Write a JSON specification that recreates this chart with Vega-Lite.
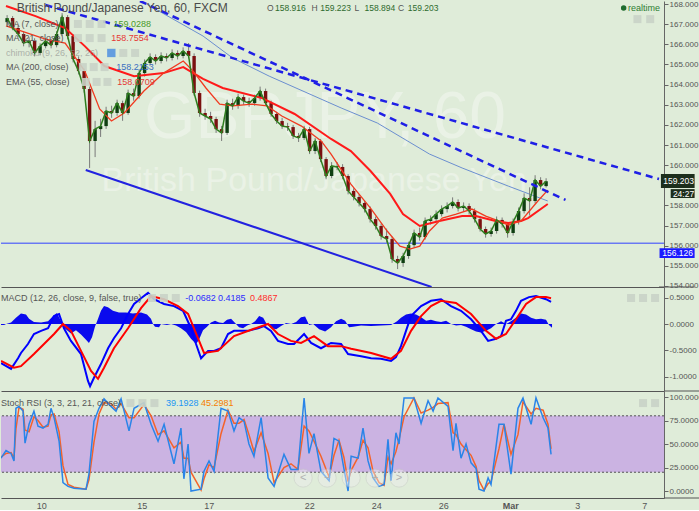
{
"$schema": "https://vega.github.io/schema/vega-lite/v6.json",
"padding": 0,
"spacing": 0,
"bounds": "flush",
"background": "#dfecd9",
"config": {"view": {"stroke": null}, "font": "Liberation Sans", "axis": {"grid": false, "title": null, "labelColor": "#555555", "labelFontSize": 8, "domainColor": "#666666", "tickColor": "#666666", "tickSize": 4, "labelPadding": 1}},
"datasets": {
"candles": [
{"h":-28,"o":167.10,"hi":167.45,"lo":166.95,"c":167.30},
{"h":-24,"o":167.30,"hi":167.40,"lo":166.70,"c":166.81},
{"h":-20,"o":166.81,"hi":166.95,"lo":166.35,"c":166.51},
{"h":-16,"o":166.51,"hi":166.65,"lo":165.90,"c":166.06},
{"h":-12,"o":166.06,"hi":166.35,"lo":165.85,"c":166.16},
{"h":-8,"o":166.16,"hi":166.30,"lo":165.40,"c":165.57},
{"h":-4,"o":165.57,"hi":166.05,"lo":165.45,"c":165.91},
{"h":0,"o":165.91,"hi":166.30,"lo":165.80,"c":166.16},
{"h":4,"o":166.16,"hi":166.25,"lo":165.80,"c":165.96},
{"h":8,"o":165.96,"hi":166.65,"lo":165.85,"c":166.51},
{"h":12,"o":166.51,"hi":167.55,"lo":166.40,"c":167.35},
{"h":16,"o":167.35,"hi":167.45,"lo":166.25,"c":166.41},
{"h":20,"o":166.41,"hi":166.50,"lo":165.10,"c":165.27},
{"h":24,"o":165.27,"hi":165.40,"lo":164.50,"c":164.67},
{"h":28,"o":164.67,"hi":164.80,"lo":163.60,"c":163.78},
{"h":32,"o":163.78,"hi":163.90,"lo":159.86,"c":161.20},
{"h":36,"o":161.20,"hi":162.20,"lo":160.40,"c":161.79},
{"h":40,"o":161.79,"hi":162.30,"lo":161.40,"c":161.94},
{"h":44,"o":161.94,"hi":162.90,"lo":161.80,"c":162.69},
{"h":48,"o":162.69,"hi":162.95,"lo":162.35,"c":162.59},
{"h":52,"o":162.59,"hi":163.25,"lo":162.45,"c":163.08},
{"h":56,"o":163.08,"hi":163.20,"lo":162.20,"c":162.59},
{"h":60,"o":162.59,"hi":163.75,"lo":162.50,"c":163.58},
{"h":64,"o":163.58,"hi":163.80,"lo":163.20,"c":163.43},
{"h":68,"o":163.43,"hi":164.75,"lo":163.30,"c":164.57},
{"h":72,"o":164.57,"hi":165.25,"lo":164.40,"c":165.07},
{"h":76,"o":165.07,"hi":165.55,"lo":164.95,"c":165.37},
{"h":80,"o":165.37,"hi":165.50,"lo":165.00,"c":165.17},
{"h":84,"o":165.17,"hi":165.60,"lo":165.05,"c":165.42},
{"h":88,"o":165.42,"hi":165.55,"lo":165.15,"c":165.32},
{"h":92,"o":165.32,"hi":165.75,"lo":165.20,"c":165.57},
{"h":96,"o":165.57,"hi":165.70,"lo":165.25,"c":165.42},
{"h":100,"o":165.42,"hi":165.85,"lo":165.30,"c":165.67},
{"h":104,"o":165.67,"hi":166.06,"lo":165.30,"c":165.42},
{"h":108,"o":165.42,"hi":165.55,"lo":163.45,"c":163.58},
{"h":112,"o":163.58,"hi":163.70,"lo":162.40,"c":162.59},
{"h":116,"o":162.59,"hi":162.80,"lo":162.25,"c":162.44},
{"h":120,"o":162.44,"hi":162.65,"lo":162.10,"c":162.29},
{"h":124,"o":162.29,"hi":162.40,"lo":161.60,"c":161.79},
{"h":128,"o":161.79,"hi":161.95,"lo":161.20,"c":161.60},
{"h":132,"o":161.60,"hi":163.25,"lo":161.50,"c":163.08},
{"h":136,"o":163.08,"hi":163.30,"lo":162.75,"c":162.94},
{"h":140,"o":162.94,"hi":163.55,"lo":162.80,"c":163.38},
{"h":144,"o":163.38,"hi":163.50,"lo":163.00,"c":163.18},
{"h":148,"o":163.18,"hi":163.35,"lo":162.90,"c":163.08},
{"h":152,"o":163.08,"hi":163.50,"lo":162.95,"c":163.33},
{"h":156,"o":163.33,"hi":163.90,"lo":163.20,"c":163.68},
{"h":160,"o":163.68,"hi":163.80,"lo":162.95,"c":163.08},
{"h":164,"o":163.08,"hi":163.20,"lo":162.40,"c":162.54},
{"h":168,"o":162.54,"hi":162.65,"lo":162.05,"c":162.19},
{"h":172,"o":162.19,"hi":162.35,"lo":161.80,"c":161.94},
{"h":176,"o":161.94,"hi":162.10,"lo":161.70,"c":161.89},
{"h":180,"o":161.89,"hi":162.00,"lo":161.30,"c":161.45},
{"h":184,"o":161.45,"hi":161.60,"lo":161.15,"c":161.35},
{"h":188,"o":161.35,"hi":161.95,"lo":161.25,"c":161.79},
{"h":192,"o":161.79,"hi":161.90,"lo":160.55,"c":160.70},
{"h":196,"o":160.70,"hi":161.35,"lo":160.55,"c":161.20},
{"h":200,"o":161.20,"hi":161.30,"lo":160.15,"c":160.30},
{"h":204,"o":160.30,"hi":160.40,"lo":159.30,"c":159.46},
{"h":208,"o":159.46,"hi":160.15,"lo":159.35,"c":159.96},
{"h":212,"o":159.96,"hi":160.15,"lo":159.75,"c":159.91},
{"h":216,"o":159.91,"hi":160.05,"lo":159.30,"c":159.46},
{"h":220,"o":159.46,"hi":159.55,"lo":158.55,"c":158.72},
{"h":224,"o":158.72,"hi":158.85,"lo":158.25,"c":158.42},
{"h":228,"o":158.42,"hi":158.55,"lo":157.95,"c":158.12},
{"h":232,"o":158.12,"hi":158.25,"lo":157.65,"c":157.82},
{"h":236,"o":157.82,"hi":157.95,"lo":157.15,"c":157.32},
{"h":240,"o":157.32,"hi":157.45,"lo":156.80,"c":156.98},
{"h":244,"o":156.98,"hi":157.10,"lo":156.30,"c":156.48},
{"h":248,"o":156.48,"hi":156.85,"lo":156.15,"c":156.33},
{"h":252,"o":156.33,"hi":156.45,"lo":155.15,"c":155.34},
{"h":256,"o":155.34,"hi":155.50,"lo":154.84,"c":155.14},
{"h":260,"o":155.14,"hi":155.65,"lo":154.95,"c":155.49},
{"h":264,"o":155.49,"hi":156.20,"lo":155.35,"c":156.03},
{"h":268,"o":156.03,"hi":156.80,"lo":155.90,"c":156.63},
{"h":272,"o":156.63,"hi":156.90,"lo":156.25,"c":156.43},
{"h":276,"o":156.43,"hi":157.40,"lo":156.30,"c":157.23},
{"h":280,"o":157.23,"hi":157.50,"lo":157.05,"c":157.32},
{"h":284,"o":157.32,"hi":157.75,"lo":157.15,"c":157.57},
{"h":288,"o":157.57,"hi":158.00,"lo":157.45,"c":157.82},
{"h":292,"o":157.82,"hi":158.15,"lo":157.65,"c":157.97},
{"h":296,"o":157.97,"hi":158.40,"lo":157.85,"c":158.17},
{"h":300,"o":158.17,"hi":158.30,"lo":157.70,"c":157.87},
{"h":304,"o":157.87,"hi":158.15,"lo":157.70,"c":157.97},
{"h":308,"o":157.97,"hi":158.10,"lo":157.55,"c":157.72},
{"h":312,"o":157.72,"hi":157.85,"lo":157.15,"c":157.32},
{"h":316,"o":157.32,"hi":157.45,"lo":156.70,"c":156.83},
{"h":320,"o":156.83,"hi":156.95,"lo":156.40,"c":156.58},
{"h":324,"o":156.58,"hi":156.90,"lo":156.45,"c":156.73},
{"h":328,"o":156.73,"hi":157.45,"lo":156.60,"c":157.28},
{"h":332,"o":157.28,"hi":157.40,"lo":156.90,"c":157.08},
{"h":336,"o":157.08,"hi":157.15,"lo":156.40,"c":156.63},
{"h":340,"o":156.63,"hi":157.35,"lo":156.50,"c":157.18},
{"h":344,"o":157.18,"hi":157.90,"lo":157.05,"c":157.72},
{"h":348,"o":157.72,"hi":158.60,"lo":157.60,"c":158.37},
{"h":352,"o":158.37,"hi":158.90,"lo":157.50,"c":158.22},
{"h":356,"o":158.22,"hi":159.50,"lo":158.10,"c":159.26},
{"h":360,"o":159.26,"hi":159.40,"lo":158.80,"c":158.96},
{"h":364,"o":158.96,"hi":159.35,"lo":158.89,"c":159.20}
],
"ema55": [
{"h":-28.8,"v":167.90},{"h":-7.3,"v":167.40},{"h":14.2,"v":166.81},{"h":28.5,"v":165.91},{"h":42.8,"v":164.92},{"h":64.3,"v":164.42},{"h":85.8,"v":164.57},{"h":100.1,"v":164.87},{"h":114.5,"v":164.28},{"h":128.8,"v":163.83},{"h":157.5,"v":163.33},{"h":181.1,"v":162.54},{"h":207.6,"v":161.30},{"h":222.0,"v":160.70},{"h":236.3,"v":159.71},{"h":250.6,"v":158.57},{"h":259.9,"v":157.57},{"h":272.1,"v":156.98},{"h":286.4,"v":157.23},{"h":302.9,"v":157.47},{"h":312.9,"v":157.47},{"h":327.2,"v":157.23},{"h":336.5,"v":157.13},{"h":345.8,"v":157.23},{"h":350.9,"v":157.37},{"h":365.2,"v":158.07}
],
"ema21": [
{"h":-28.8,"v":166.91},{"h":-0.1,"v":166.26},{"h":14.2,"v":166.06},{"h":28.5,"v":164.67},{"h":39.3,"v":162.79},{"h":47.9,"v":162.19},{"h":57.2,"v":162.59},{"h":71.5,"v":163.68},{"h":85.8,"v":164.57},{"h":100.1,"v":165.17},{"h":107.3,"v":164.67},{"h":116.6,"v":163.83},{"h":126.6,"v":163.03},{"h":136.0,"v":162.94},{"h":150.3,"v":163.03},{"h":161.0,"v":162.94},{"h":171.8,"v":162.44},{"h":186.1,"v":161.94},{"h":200.4,"v":161.20},{"h":207.6,"v":160.55},{"h":222.0,"v":159.06},{"h":236.3,"v":157.87},{"h":248.4,"v":156.73},{"h":257.7,"v":155.98},{"h":264.9,"v":155.83},{"h":272.1,"v":155.98},{"h":279.2,"v":156.73},{"h":288.5,"v":157.37},{"h":298.6,"v":157.57},{"h":310.0,"v":157.82},{"h":320.1,"v":157.47},{"h":329.4,"v":157.23},{"h":336.5,"v":157.03},{"h":345.8,"v":157.23},{"h":358.0,"v":158.22},{"h":365.2,"v":158.76}
],
"ma200": [
{"h":64.3,"v":168.35},{"h":114.5,"v":166.41},{"h":136.0,"v":165.32},{"h":162.6,"v":164.42},{"h":214.9,"v":162.84},{"h":241.3,"v":162.09},{"h":279.2,"v":160.55},{"h":302.9,"v":159.86},{"h":336.5,"v":158.96},{"h":365.2,"v":158.22}
],
"macd": [
{"h":-28.8,"v":-0.74},{"h":-21.6,"v":-0.85},{"h":-16.6,"v":-0.65},{"h":-14.5,"v":-0.55},{"h":-9.5,"v":-0.38},{"h":-5.2,"v":-0.19},{"h":-0.1,"v":-0.13},{"h":4.9,"v":-0.08},{"h":9.2,"v":0.15},{"h":12.8,"v":0.19},{"h":16.3,"v":-0.08},{"h":21.3,"v":-0.32},{"h":28.5,"v":-0.57},{"h":33.5,"v":-1.08},{"h":35.0,"v":-1.18},{"h":37.8,"v":-1.02},{"h":42.8,"v":-0.76},{"h":47.9,"v":-0.46},{"h":52.1,"v":-0.27},{"h":57.2,"v":-0.08},{"h":62.2,"v":0.19},{"h":66.5,"v":0.38},{"h":71.5,"v":0.49},{"h":76.5,"v":0.59},{"h":80.8,"v":0.47},{"h":88.0,"v":0.38},{"h":95.1,"v":0.34},{"h":101.6,"v":0.25},{"h":107.3,"v":-0.08},{"h":110.9,"v":-0.38},{"h":114.5,"v":-0.65},{"h":119.5,"v":-0.51},{"h":123.8,"v":-0.51},{"h":128.8,"v":-0.46},{"h":133.8,"v":-0.19},{"h":138.1,"v":-0.13},{"h":148.1,"v":-0.13},{"h":155.3,"v":-0.08},{"h":159.6,"v":-0.04},{"h":164.6,"v":-0.13},{"h":169.6,"v":-0.32},{"h":176.8,"v":-0.38},{"h":181.1,"v":-0.38},{"h":188.3,"v":-0.19},{"h":193.3,"v":-0.36},{"h":200.4,"v":-0.46},{"h":207.6,"v":-0.36},{"h":214.8,"v":-0.38},{"h":219.8,"v":-0.57},{"h":229.1,"v":-0.61},{"h":236.3,"v":-0.65},{"h":243.4,"v":-0.66},{"h":250.6,"v":-0.70},{"h":254.1,"v":-0.63},{"h":257.7,"v":-0.42},{"h":261.3,"v":-0.13},{"h":264.9,"v":0.15},{"h":272.1,"v":0.34},{"h":279.2,"v":0.44},{"h":286.4,"v":0.47},{"h":293.5,"v":0.34},{"h":300.7,"v":0.25},{"h":307.9,"v":0.09},{"h":315.0,"v":-0.13},{"h":320.1,"v":-0.32},{"h":325.8,"v":-0.28},{"h":329.4,"v":-0.23},{"h":332.9,"v":0.06},{"h":336.5,"v":0.09},{"h":340.1,"v":0.25},{"h":343.7,"v":0.44},{"h":349.4,"v":0.51},{"h":354.4,"v":0.53},{"h":361.6,"v":0.47},{"h":365.2,"v":0.42}
],
"signal": [
{"h":-28.8,"v":-0.70},{"h":-19.5,"v":-0.83},{"h":-14.5,"v":-0.80},{"h":-5.2,"v":-0.57},{"h":2.0,"v":-0.38},{"h":9.2,"v":-0.19},{"h":15.6,"v":0.0},{"h":21.3,"v":-0.13},{"h":28.5,"v":-0.51},{"h":35.7,"v":-0.89},{"h":40.7,"v":-1.04},{"h":45.0,"v":-0.83},{"h":52.1,"v":-0.46},{"h":62.2,"v":-0.08},{"h":71.5,"v":0.30},{"h":78.7,"v":0.53},{"h":88.0,"v":0.47},{"h":98.0,"v":0.34},{"h":105.2,"v":0.19},{"h":112.3,"v":-0.27},{"h":116.6,"v":-0.55},{"h":126.6,"v":-0.51},{"h":138.1,"v":-0.23},{"h":152.4,"v":-0.09},{"h":162.5,"v":0.0},{"h":169.6,"v":-0.19},{"h":178.9,"v":-0.32},{"h":186.1,"v":-0.36},{"h":195.4,"v":-0.23},{"h":205.4,"v":-0.42},{"h":214.8,"v":-0.42},{"h":222.0,"v":-0.47},{"h":236.3,"v":-0.55},{"h":250.6,"v":-0.66},{"h":257.7,"v":-0.51},{"h":264.9,"v":-0.13},{"h":272.1,"v":0.15},{"h":279.2,"v":0.34},{"h":286.4,"v":0.44},{"h":297.1,"v":0.40},{"h":307.9,"v":0.19},{"h":318.6,"v":-0.13},{"h":325.8,"v":-0.28},{"h":332.9,"v":-0.19},{"h":340.1,"v":0.09},{"h":347.3,"v":0.38},{"h":354.4,"v":0.51},{"h":361.6,"v":0.51},{"h":365.2,"v":0.49}
],
"hist": [
{"h":-28.8,"v":-0.02},{"h":-26.6,"v":-0.02},{"h":-25.2,"v":0.0},{"h":-21.6,"v":0.03},{"h":-18.1,"v":0.12},{"h":-14.5,"v":0.2},{"h":-10.9,"v":0.18},{"h":-8.7,"v":0.1},{"h":-5.2,"v":0.04},{"h":-0.1,"v":0.03},{"h":4.9,"v":0.05},{"h":8.5,"v":0.15},{"h":11.3,"v":0.21},{"h":14.2,"v":0.05},{"h":15.6,"v":-0.05},{"h":18.5,"v":-0.12},{"h":21.3,"v":-0.18},{"h":24.9,"v":-0.12},{"h":28.5,"v":-0.2},{"h":32.1,"v":-0.3},{"h":34.2,"v":-0.36},{"h":36.4,"v":-0.25},{"h":38.5,"v":-0.05},{"h":40.7,"v":0.1},{"h":42.8,"v":0.25},{"h":45.0,"v":0.34},{"h":47.8,"v":0.32},{"h":51.4,"v":0.25},{"h":55.7,"v":0.22},{"h":60.7,"v":0.22},{"h":65.7,"v":0.2},{"h":71.5,"v":0.22},{"h":75.8,"v":0.18},{"h":78.6,"v":0.1},{"h":80.1,"v":0.0},{"h":81.5,"v":-0.05},{"h":84.4,"v":-0.06},{"h":85.8,"v":0.0},{"h":90.1,"v":-0.02},{"h":93.0,"v":0.0},{"h":96.6,"v":-0.03},{"h":100.1,"v":-0.08},{"h":103.7,"v":-0.15},{"h":107.3,"v":-0.28},{"h":110.9,"v":-0.38},{"h":113.0,"v":-0.3},{"h":115.9,"v":-0.12},{"h":118.8,"v":-0.05},{"h":121.6,"v":0.03},{"h":124.5,"v":0.06},{"h":127.4,"v":0.03},{"h":130.3,"v":0.02},{"h":133.1,"v":0.08},{"h":136.0,"v":0.1},{"h":138.9,"v":0.02},{"h":141.7,"v":-0.06},{"h":144.6,"v":-0.08},{"h":147.5,"v":-0.03},{"h":150.3,"v":0.0},{"h":153.2,"v":0.05},{"h":156.1,"v":0.15},{"h":159.0,"v":0.12},{"h":161.1,"v":0.02},{"h":164.7,"v":-0.08},{"h":168.3,"v":-0.1},{"h":171.8,"v":-0.04},{"h":175.4,"v":0.02},{"h":179.0,"v":0.0},{"h":182.6,"v":0.04},{"h":186.1,"v":0.13},{"h":189.0,"v":0.14},{"h":191.9,"v":-0.02},{"h":194.8,"v":0.0},{"h":199.1,"v":-0.1},{"h":203.4,"v":-0.14},{"h":207.6,"v":-0.06},{"h":211.2,"v":0.05},{"h":214.8,"v":0.1},{"h":217.7,"v":0.06},{"h":220.5,"v":-0.06},{"h":223.4,"v":-0.05},{"h":229.1,"v":-0.03},{"h":236.3,"v":-0.04},{"h":243.4,"v":-0.03},{"h":250.6,"v":-0.02},{"h":254.9,"v":0.05},{"h":257.7,"v":0.12},{"h":261.3,"v":0.18},{"h":264.9,"v":0.2},{"h":268.5,"v":0.18},{"h":272.1,"v":0.13},{"h":275.7,"v":0.06},{"h":279.2,"v":0.08},{"h":282.8,"v":0.05},{"h":286.4,"v":0.04},{"h":290.0,"v":0.06},{"h":293.6,"v":0.0},{"h":297.2,"v":-0.03},{"h":300.7,"v":-0.02},{"h":304.3,"v":-0.05},{"h":307.9,"v":-0.1},{"h":311.5,"v":-0.14},{"h":315.0,"v":-0.16},{"h":318.6,"v":-0.13},{"h":322.2,"v":-0.08},{"h":325.8,"v":0.0},{"h":329.4,"v":0.05},{"h":332.9,"v":0.0},{"h":336.5,"v":0.05},{"h":340.1,"v":0.12},{"h":343.7,"v":0.2},{"h":347.3,"v":0.18},{"h":350.9,"v":0.12},{"h":354.4,"v":0.09},{"h":358.0,"v":0.1},{"h":361.6,"v":0.08},{"h":363.7,"v":-0.02},{"h":365.9,"v":-0.07}
],
"stoch": [
{"h":-28.8,"k":35,"d":36},{"h":-25.2,"k":43,"d":40},{"h":-21.6,"k":40,"d":41},{"h":-19.5,"k":32,"d":35},{"h":-18.1,"k":88,"d":66},{"h":-15.9,"k":90,"d":89},{"h":-13.0,"k":85,"d":87},{"h":-11.6,"k":51,"d":65},{"h":-8.7,"k":71,"d":63},{"h":-5.2,"k":85,"d":79},{"h":-2.3,"k":69,"d":75},{"h":1.3,"k":67,"d":68},{"h":4.9,"k":71,"d":69},{"h":7.0,"k":88,"d":81},{"h":9.2,"k":78,"d":82},{"h":12.8,"k":53,"d":63},{"h":15.6,"k":9,"d":27},{"h":19.2,"k":5,"d":7},{"h":23.5,"k":3,"d":4},{"h":32.1,"k":2,"d":2},{"h":34.2,"k":18,"d":12},{"h":37.8,"k":74,"d":52},{"h":41.4,"k":88,"d":82},{"h":45.0,"k":98,"d":94},{"h":50.0,"k":90,"d":93},{"h":53.6,"k":85,"d":87},{"h":57.2,"k":98,"d":93},{"h":62.9,"k":64,"d":78},{"h":66.5,"k":88,"d":78},{"h":73.6,"k":94,"d":92},{"h":78.7,"k":71,"d":80},{"h":83.7,"k":53,"d":60},{"h":88.0,"k":71,"d":64},{"h":95.1,"k":29,"d":46},{"h":100.1,"k":67,"d":52},{"h":102.2,"k":13,"d":35},{"h":105.2,"k":50,"d":35},{"h":107.3,"k":0,"d":20},{"h":114.5,"k":2,"d":1},{"h":116.6,"k":21,"d":13},{"h":120.2,"k":32,"d":28},{"h":123.8,"k":21,"d":25},{"h":128.8,"k":88,"d":61},{"h":133.8,"k":85,"d":86},{"h":138.1,"k":64,"d":72},{"h":141.7,"k":78,"d":72},{"h":145.3,"k":74,"d":76},{"h":148.8,"k":50,"d":60},{"h":152.4,"k":37,"d":42},{"h":157.5,"k":78,"d":62},{"h":162.5,"k":14,"d":40},{"h":166.8,"k":5,"d":9},{"h":173.9,"k":39,"d":25},{"h":178.9,"k":23,"d":29},{"h":183.9,"k":23,"d":23},{"h":188.3,"k":99,"d":69},{"h":191.8,"k":40,"d":64},{"h":195.4,"k":61,"d":53},{"h":200.4,"k":21,"d":37},{"h":206.2,"k":11,"d":15},{"h":209.7,"k":56,"d":38},{"h":213.3,"k":53,"d":54},{"h":216.8,"k":24,"d":36},{"h":219.8,"k":0,"d":10},{"h":222.0,"k":37,"d":22},{"h":227.0,"k":35,"d":36},{"h":230.5,"k":67,"d":54},{"h":234.1,"k":32,"d":46},{"h":237.7,"k":14,"d":21},{"h":242.0,"k":5,"d":9},{"h":245.6,"k":7,"d":6},{"h":248.4,"k":55,"d":36},{"h":250.6,"k":11,"d":29},{"h":254.1,"k":62,"d":42},{"h":256.3,"k":50,"d":55},{"h":259.9,"k":99,"d":79},{"h":267.0,"k":99,"d":99},{"h":272.1,"k":72,"d":83},{"h":277.1,"k":96,"d":86},{"h":280.7,"k":85,"d":89},{"h":284.2,"k":99,"d":93},{"h":291.4,"k":90,"d":94},{"h":295.0,"k":43,"d":62},{"h":297.1,"k":72,"d":60},{"h":300.7,"k":35,"d":50},{"h":304.3,"k":50,"d":44},{"h":307.9,"k":30,"d":38},{"h":311.5,"k":24,"d":26},{"h":313.6,"k":2,"d":11},{"h":317.2,"k":0,"d":1},{"h":320.1,"k":14,"d":8},{"h":322.2,"k":7,"d":10},{"h":327.9,"k":71,"d":45},{"h":331.5,"k":71,"d":71},{"h":336.5,"k":18,"d":39},{"h":341.5,"k":88,"d":60},{"h":345.1,"k":99,"d":95},{"h":350.9,"k":71,"d":82},{"h":354.4,"k":99,"d":88},{"h":359.5,"k":78,"d":86},{"h":363.0,"k":67,"d":71},{"h":365.2,"k":39,"d":45}
]
},
"vconcat": [
{
"width": 663, "height": 286,
"data": {"values": [{}]},
"resolve": {"axis": {"x": "independent", "y": "independent"}},
"layer": [
{"mark": {"type": "text", "align": "left", "baseline": "middle", "fontSize": 66, "color": "#ffffff", "opacity": 0.35},
 "encoding": {
  "x": {"datum": 71.6, "type": "quantitative", "scale": {"domain": [-28.8, 446.1], "nice": false, "zero": false}, "axis": {"orient": "bottom", "labels": false, "ticks": false, "domain": true, "domainColor": "#555555"}},
  "y": {"datum": 162.34, "type": "quantitative", "scale": {"domain": [153.95, 168.15], "nice": false, "zero": false}, "axis": {"orient": "right", "values": [154,155,156,157,158,160,161,162,163,164,165,166,167,168], "format": ".3f"}},
  "text": {"value": "GBPJPY, 60"}}},
{"mark": {"type": "text", "align": "left", "baseline": "middle", "fontSize": 34, "color": "#ffffff", "opacity": 0.35},
 "encoding": {"x": {"datum": 40.7, "type": "quantitative", "axis": null}, "y": {"datum": 159.21, "type": "quantitative", "axis": null}, "text": {"value": "British Pound/Japanese Yen"}}},
{"mark": {"type": "rule", "color": "#555555", "strokeWidth": 1},
 "encoding": {"x": {"datum": 446.1, "type": "quantitative", "axis": null}, "x2": {"datum": 472}, "y": {"datum": 153.95, "type": "quantitative", "axis": null}}},
{"mark": {"type": "rule", "color": "#3040ff", "strokeWidth": 1}, "encoding": {"y": {"datum": 156.126, "type": "quantitative", "axis": null}}},
{"mark": {"type": "rule", "color": "#2222e0", "strokeWidth": 2, "clip": true},
 "encoding": {"x": {"datum": 29.2, "type": "quantitative", "axis": null}, "x2": {"datum": 280.7}, "y": {"datum": 159.76, "type": "quantitative", "axis": null}, "y2": {"datum": 153.95}}},
{"data": {"name": "ma200"}, "mark": {"type": "line", "color": "#6b8fd0", "strokeWidth": 1, "clip": true},
 "encoding": {"x": {"field": "h", "type": "quantitative", "axis": null}, "y": {"field": "v", "type": "quantitative", "axis": null}}},
{"data": {"name": "candles"}, "mark": {"type": "rule", "color": "#7a7a7a", "strokeWidth": 1, "clip": true},
 "encoding": {"x": {"field": "h", "type": "quantitative", "axis": null}, "y": {"field": "lo", "type": "quantitative", "axis": null}, "y2": {"field": "hi"}}},
{"data": {"name": "candles"}, "mark": {"type": "bar", "width": 3.4, "clip": true},
 "encoding": {"x": {"field": "h", "type": "quantitative", "axis": null}, "y": {"field": "o", "type": "quantitative", "axis": null}, "y2": {"field": "c"},
  "color": {"condition": {"test": "datum.c >= datum.o", "value": "#0f3f12"}, "value": "#7a1010"}}},
{"data": {"name": "ema55"}, "mark": {"type": "line", "color": "#ff1a1a", "strokeWidth": 2, "clip": true},
 "encoding": {"x": {"field": "h", "type": "quantitative", "axis": null}, "y": {"field": "v", "type": "quantitative", "axis": null}}},
{"data": {"name": "ema21"}, "mark": {"type": "line", "color": "#f03a20", "strokeWidth": 1.3, "clip": true},
 "encoding": {"x": {"field": "h", "type": "quantitative", "axis": null}, "y": {"field": "v", "type": "quantitative", "axis": null}}},
{"data": {"name": "candles"}, "mark": {"type": "line", "color": "#2e7d1e", "strokeWidth": 1.5, "clip": true},
 "encoding": {"x": {"field": "h", "type": "quantitative", "axis": null}, "y": {"field": "c", "type": "quantitative", "axis": null}}},
{"mark": {"type": "rule", "color": "#1f1fe6", "strokeWidth": 2.5, "strokeDash": [7, 5], "clip": true},
 "encoding": {"x": {"datum": -0.1, "type": "quantitative", "axis": null}, "x2": {"datum": 446.1}, "y": {"datum": 167.95, "type": "quantitative", "axis": null}, "y2": {"datum": 159.31}}},
{"mark": {"type": "rule", "color": "#1f1fe6", "strokeWidth": 2.5, "strokeDash": [7, 5], "clip": true},
 "encoding": {"x": {"datum": 68.6, "type": "quantitative", "axis": null}, "x2": {"datum": 378.1}, "y": {"datum": 168.15, "type": "quantitative", "axis": null}, "y2": {"datum": 158.27}}},
{"mark": {"type": "text", "align": "left", "baseline": "middle", "fontSize": 12, "color": "#4a4a4a"},
 "encoding": {"x": {"datum": -20.9, "type": "quantitative", "axis": null}, "y": {"datum": 167.80, "type": "quantitative", "axis": null}, "text": {"value": "British Pound/Japanese Yen, 60, FXCM"}}},
{"mark": {"type": "text", "align": "left", "baseline": "middle", "fontSize": 8.5, "color": "#555555"},
 "encoding": {"x": {"datum": 161.0, "type": "quantitative", "axis": null}, "y": {"datum": 167.80, "type": "quantitative", "axis": null}, "text": {"value": "O"}}},
{"mark": {"type": "text", "align": "left", "baseline": "middle", "fontSize": 8.5, "color": "#2e6b2e"},
 "encoding": {"x": {"datum": 166.8, "type": "quantitative", "axis": null}, "y": {"datum": 167.80, "type": "quantitative", "axis": null}, "text": {"value": "158.916"}}},
{"mark": {"type": "text", "align": "left", "baseline": "middle", "fontSize": 8.5, "color": "#555555"},
 "encoding": {"x": {"datum": 193.3, "type": "quantitative", "axis": null}, "y": {"datum": 167.80, "type": "quantitative", "axis": null}, "text": {"value": "H"}}},
{"mark": {"type": "text", "align": "left", "baseline": "middle", "fontSize": 8.5, "color": "#2e6b2e"},
 "encoding": {"x": {"datum": 199.8, "type": "quantitative", "axis": null}, "y": {"datum": 167.80, "type": "quantitative", "axis": null}, "text": {"value": "159.223"}}},
{"mark": {"type": "text", "align": "left", "baseline": "middle", "fontSize": 8.5, "color": "#555555"},
 "encoding": {"x": {"datum": 224.7, "type": "quantitative", "axis": null}, "y": {"datum": 167.80, "type": "quantitative", "axis": null}, "text": {"value": "L"}}},
{"mark": {"type": "text", "align": "left", "baseline": "middle", "fontSize": 8.5, "color": "#2e6b2e"},
 "encoding": {"x": {"datum": 231.9, "type": "quantitative", "axis": null}, "y": {"datum": 167.80, "type": "quantitative", "axis": null}, "text": {"value": "158.894"}}},
{"mark": {"type": "text", "align": "left", "baseline": "middle", "fontSize": 8.5, "color": "#555555"},
 "encoding": {"x": {"datum": 256.3, "type": "quantitative", "axis": null}, "y": {"datum": 167.80, "type": "quantitative", "axis": null}, "text": {"value": "C"}}},
{"mark": {"type": "text", "align": "left", "baseline": "middle", "fontSize": 8.5, "color": "#2e6b2e"},
 "encoding": {"x": {"datum": 263.4, "type": "quantitative", "axis": null}, "y": {"datum": 167.80, "type": "quantitative", "axis": null}, "text": {"value": "159.203"}}},
{"mark": {"type": "text", "align": "left", "baseline": "middle", "fontSize": 9, "color": "#555555"},
 "encoding": {"x": {"datum": -28.8, "type": "quantitative", "axis": null}, "y": {"datum": 167.01, "type": "quantitative", "axis": null}, "text": {"value": "MA (7, close)"}}},
{"mark": {"type": "text", "align": "left", "baseline": "middle", "fontSize": 9, "color": "#4a9a2a"},
 "encoding": {"x": {"datum": 49.3, "type": "quantitative", "axis": null}, "y": {"datum": 167.01, "type": "quantitative", "axis": null}, "text": {"value": "159.0288"}}},
{"mark": {"type": "text", "align": "left", "baseline": "middle", "fontSize": 9, "color": "#555555"},
 "encoding": {"x": {"datum": -28.8, "type": "quantitative", "axis": null}, "y": {"datum": 166.31, "type": "quantitative", "axis": null}, "text": {"value": "MA (21, close)"}}},
{"mark": {"type": "text", "align": "left", "baseline": "middle", "fontSize": 9, "color": "#e53935"},
 "encoding": {"x": {"datum": 47.8, "type": "quantitative", "axis": null}, "y": {"datum": 166.31, "type": "quantitative", "axis": null}, "text": {"value": "158.7554"}}},
{"mark": {"type": "text", "align": "left", "baseline": "middle", "fontSize": 9, "color": "#8a8a8a", "opacity": 0.6},
 "encoding": {"x": {"datum": -28.8, "type": "quantitative", "axis": null}, "y": {"datum": 165.57, "type": "quantitative", "axis": null}, "text": {"value": "chimoku (9, 26, 52, 26)"}}},
{"mark": {"type": "text", "align": "left", "baseline": "middle", "fontSize": 9, "color": "#555555"},
 "encoding": {"x": {"datum": -28.8, "type": "quantitative", "axis": null}, "y": {"datum": 164.87, "type": "quantitative", "axis": null}, "text": {"value": "MA (200, close)"}}},
{"mark": {"type": "text", "align": "left", "baseline": "middle", "fontSize": 9, "color": "#3a6fc0"},
 "encoding": {"x": {"datum": 51.4, "type": "quantitative", "axis": null}, "y": {"datum": 164.87, "type": "quantitative", "axis": null}, "text": {"value": "158.2153"}}},
{"mark": {"type": "text", "align": "left", "baseline": "middle", "fontSize": 9, "color": "#555555"},
 "encoding": {"x": {"datum": -28.8, "type": "quantitative", "axis": null}, "y": {"datum": 164.13, "type": "quantitative", "axis": null}, "text": {"value": "EMA (55, close)"}}},
{"mark": {"type": "text", "align": "left", "baseline": "middle", "fontSize": 9, "color": "#e53935"},
 "encoding": {"x": {"datum": 52.1, "type": "quantitative", "axis": null}, "y": {"datum": 164.13, "type": "quantitative", "axis": null}, "text": {"value": "158.0709"}}},
{"mark": {"type": "square", "size": 64, "filled": true, "color": "#c9d3c6", "opacity": 0.9}, "encoding": {"x": {"datum": 23.5, "type": "quantitative", "axis": null}, "y": {"datum": 167.01, "type": "quantitative", "axis": null}}},
{"mark": {"type": "square", "size": 64, "filled": true, "color": "#c9d3c6", "opacity": 0.9}, "encoding": {"x": {"datum": 32.1, "type": "quantitative", "axis": null}, "y": {"datum": 167.01, "type": "quantitative", "axis": null}}},
{"mark": {"type": "square", "size": 64, "filled": true, "color": "#c9d3c6", "opacity": 0.9}, "encoding": {"x": {"datum": 40.7, "type": "quantitative", "axis": null}, "y": {"datum": 167.01, "type": "quantitative", "axis": null}}},
{"mark": {"type": "square", "size": 64, "filled": true, "color": "#c9d3c6", "opacity": 0.9}, "encoding": {"x": {"datum": 23.5, "type": "quantitative", "axis": null}, "y": {"datum": 166.31, "type": "quantitative", "axis": null}}},
{"mark": {"type": "square", "size": 64, "filled": true, "color": "#c9d3c6", "opacity": 0.9}, "encoding": {"x": {"datum": 32.1, "type": "quantitative", "axis": null}, "y": {"datum": 166.31, "type": "quantitative", "axis": null}}},
{"mark": {"type": "square", "size": 64, "filled": true, "color": "#c9d3c6", "opacity": 0.9}, "encoding": {"x": {"datum": 40.7, "type": "quantitative", "axis": null}, "y": {"datum": 166.31, "type": "quantitative", "axis": null}}},
{"mark": {"type": "square", "size": 70, "filled": true, "color": "#2f7de1"}, "encoding": {"x": {"datum": 47.8, "type": "quantitative", "axis": null}, "y": {"datum": 165.57, "type": "quantitative", "axis": null}}},
{"mark": {"type": "square", "size": 64, "filled": true, "color": "#c9d3c6", "opacity": 0.9}, "encoding": {"x": {"datum": 56.5, "type": "quantitative", "axis": null}, "y": {"datum": 165.57, "type": "quantitative", "axis": null}}},
{"mark": {"type": "square", "size": 64, "filled": true, "color": "#c9d3c6", "opacity": 0.9}, "encoding": {"x": {"datum": 65.1, "type": "quantitative", "axis": null}, "y": {"datum": 165.57, "type": "quantitative", "axis": null}}},
{"mark": {"type": "square", "size": 64, "filled": true, "color": "#c9d3c6", "opacity": 0.9}, "encoding": {"x": {"datum": 27.1, "type": "quantitative", "axis": null}, "y": {"datum": 164.87, "type": "quantitative", "axis": null}}},
{"mark": {"type": "square", "size": 64, "filled": true, "color": "#c9d3c6", "opacity": 0.9}, "encoding": {"x": {"datum": 35.0, "type": "quantitative", "axis": null}, "y": {"datum": 164.87, "type": "quantitative", "axis": null}}},
{"mark": {"type": "square", "size": 64, "filled": true, "color": "#c9d3c6", "opacity": 0.9}, "encoding": {"x": {"datum": 42.9, "type": "quantitative", "axis": null}, "y": {"datum": 164.87, "type": "quantitative", "axis": null}}},
{"mark": {"type": "square", "size": 64, "filled": true, "color": "#c9d3c6", "opacity": 0.9}, "encoding": {"x": {"datum": 29.2, "type": "quantitative", "axis": null}, "y": {"datum": 164.13, "type": "quantitative", "axis": null}}},
{"mark": {"type": "square", "size": 64, "filled": true, "color": "#c9d3c6", "opacity": 0.9}, "encoding": {"x": {"datum": 37.1, "type": "quantitative", "axis": null}, "y": {"datum": 164.13, "type": "quantitative", "axis": null}}},
{"mark": {"type": "square", "size": 64, "filled": true, "color": "#c9d3c6", "opacity": 0.9}, "encoding": {"x": {"datum": 45.0, "type": "quantitative", "axis": null}, "y": {"datum": 164.13, "type": "quantitative", "axis": null}}},
{"mark": {"type": "square", "size": 64, "filled": true, "color": "#c9d3c6", "opacity": 0.9}, "encoding": {"x": {"datum": 430.4, "type": "quantitative", "axis": null}, "y": {"datum": 167.25, "type": "quantitative", "axis": null}}},
{"mark": {"type": "square", "size": 64, "filled": true, "color": "#c9d3c6", "opacity": 0.9}, "encoding": {"x": {"datum": 439.7, "type": "quantitative", "axis": null}, "y": {"datum": 167.25, "type": "quantitative", "axis": null}}},
{"mark": {"type": "circle", "size": 30, "color": "#1e6b2e", "opacity": 1},
 "encoding": {"x": {"datum": 420.4, "type": "quantitative", "axis": null}, "y": {"datum": 167.80, "type": "quantitative", "axis": null}}},
{"mark": {"type": "text", "align": "left", "baseline": "middle", "fontSize": 9, "color": "#2e7d32"},
 "encoding": {"x": {"datum": 423.6, "type": "quantitative", "axis": null}, "y": {"datum": 167.80, "type": "quantitative", "axis": null}, "text": {"value": "realtime"}}},
{"mark": {"type": "rect", "color": "#1c2e1c"},
 "encoding": {"x": {"datum": 447.5, "type": "quantitative", "axis": null}, "x2": {"datum": 472}, "y": {"datum": 159.56, "type": "quantitative", "axis": null}, "y2": {"datum": 158.86}}},
{"mark": {"type": "rect", "color": "#1c2e1c"},
 "encoding": {"x": {"datum": 454.6, "type": "quantitative", "axis": null}, "x2": {"datum": 472}, "y": {"datum": 158.81, "type": "quantitative", "axis": null}, "y2": {"datum": 158.37}}},
{"mark": {"type": "rect", "color": "#1a1aff"},
 "encoding": {"x": {"datum": 446.5, "type": "quantitative", "axis": null}, "x2": {"datum": 472}, "y": {"datum": 155.88, "type": "quantitative", "axis": null}, "y2": {"datum": 155.39}}},
{"mark": {"type": "text", "align": "left", "baseline": "middle", "fontSize": 8.5, "color": "#ffffff"},
 "encoding": {"x": {"datum": 449.2, "type": "quantitative", "axis": null}, "y": {"datum": 159.21, "type": "quantitative", "axis": null}, "text": {"value": "159.203"}}},
{"mark": {"type": "text", "align": "left", "baseline": "middle", "fontSize": 8.5, "color": "#ffffff"},
 "encoding": {"x": {"datum": 456.2, "type": "quantitative", "axis": null}, "y": {"datum": 158.59, "type": "quantitative", "axis": null}, "text": {"value": "24:27"}}},
{"mark": {"type": "text", "align": "left", "baseline": "middle", "fontSize": 8.5, "color": "#ffffff"},
 "encoding": {"x": {"datum": 448.5, "type": "quantitative", "axis": null}, "y": {"datum": 155.63, "type": "quantitative", "axis": null}, "text": {"value": "156.126"}}}
]
},
{
"width": 663, "height": 104,
"data": {"values": [{}]},
"resolve": {"axis": {"x": "independent", "y": "independent"}},
"layer": [
{"data": {"name": "hist"}, "mark": {"type": "area", "color": "#0a0aee", "opacity": 1, "clip": true},
 "encoding": {
  "x": {"field": "h", "type": "quantitative", "scale": {"domain": [-28.8, 446.1], "nice": false, "zero": false}, "axis": {"orient": "bottom", "labels": false, "ticks": false, "domain": true, "domainColor": "#555555"}},
  "y": {"field": "v", "type": "quantitative", "scale": {"domain": [-1.271, 0.702], "nice": false, "zero": false}, "axis": {"orient": "right", "values": [0.5, 0, -0.5, -1], "labelExpr": "datum.value == 0.5 ? '0.5000' : datum.value == 0 ? '0.0000' : datum.value == -0.5 ? '-0.5000' : '-1.0000'"}},
  "y2": {"datum": 0}}},
{"mark": {"type": "rule", "color": "#555555", "strokeWidth": 1},
 "encoding": {"x": {"datum": 446.1, "type": "quantitative", "axis": null}, "x2": {"datum": 472}, "y": {"datum": -1.271, "type": "quantitative", "axis": null}}},
{"data": {"name": "macd"}, "mark": {"type": "line", "color": "#0000ff", "strokeWidth": 2, "clip": true},
 "encoding": {"x": {"field": "h", "type": "quantitative", "axis": null}, "y": {"field": "v", "type": "quantitative", "axis": null}}},
{"data": {"name": "signal"}, "mark": {"type": "line", "color": "#ff0000", "strokeWidth": 2, "clip": true},
 "encoding": {"x": {"field": "h", "type": "quantitative", "axis": null}, "y": {"field": "v", "type": "quantitative", "axis": null}}},
{"mark": {"type": "text", "align": "left", "baseline": "middle", "fontSize": 9, "color": "#555555"},
 "encoding": {"x": {"datum": -28.8, "type": "quantitative", "axis": null}, "y": {"datum": 0.493, "type": "quantitative", "axis": null}, "text": {"value": "MACD (12, 26, close, 9, false, true)"}}},
{"mark": {"type": "text", "align": "left", "baseline": "middle", "fontSize": 9, "color": "#2a2aff"},
 "encoding": {"x": {"datum": 103.1, "type": "quantitative", "axis": null}, "y": {"datum": 0.493, "type": "quantitative", "axis": null}, "text": {"value": "-0.0682"}}},
{"mark": {"type": "text", "align": "left", "baseline": "middle", "fontSize": 9, "color": "#2a2aff"},
 "encoding": {"x": {"datum": 126.6, "type": "quantitative", "axis": null}, "y": {"datum": 0.493, "type": "quantitative", "axis": null}, "text": {"value": "0.4185"}}},
{"mark": {"type": "text", "align": "left", "baseline": "middle", "fontSize": 9, "color": "#ff2a2a"},
 "encoding": {"x": {"datum": 149.5, "type": "quantitative", "axis": null}, "y": {"datum": 0.493, "type": "quantitative", "axis": null}, "text": {"value": "0.4867"}}},
{"mark": {"type": "square", "size": 64, "filled": true, "color": "#c9d3c6", "opacity": 0.9}, "encoding": {"x": {"datum": 79.3, "type": "quantitative", "axis": null}, "y": {"datum": 0.493, "type": "quantitative", "axis": null}}},
{"mark": {"type": "square", "size": 64, "filled": true, "color": "#c9d3c6", "opacity": 0.9}, "encoding": {"x": {"datum": 87.9, "type": "quantitative", "axis": null}, "y": {"datum": 0.493, "type": "quantitative", "axis": null}}},
{"mark": {"type": "square", "size": 64, "filled": true, "color": "#c9d3c6", "opacity": 0.9}, "encoding": {"x": {"datum": 96.4, "type": "quantitative", "axis": null}, "y": {"datum": 0.493, "type": "quantitative", "axis": null}}},
{"mark": {"type": "square", "size": 64, "filled": true, "color": "#c9d3c6", "opacity": 0.9}, "encoding": {"x": {"datum": 422.5, "type": "quantitative", "axis": null}, "y": {"datum": 0.493, "type": "quantitative", "axis": null}}},
{"mark": {"type": "square", "size": 64, "filled": true, "color": "#c9d3c6", "opacity": 0.9}, "encoding": {"x": {"datum": 431.1, "type": "quantitative", "axis": null}, "y": {"datum": 0.493, "type": "quantitative", "axis": null}}},
{"mark": {"type": "square", "size": 64, "filled": true, "color": "#c9d3c6", "opacity": 0.9}, "encoding": {"x": {"datum": 439.7, "type": "quantitative", "axis": null}, "y": {"datum": 0.493, "type": "quantitative", "axis": null}}}
]
},
{
"width": 663, "height": 107,
"data": {"values": [{}]},
"resolve": {"axis": {"x": "independent", "y": "independent"}},
"layer": [
{"mark": {"type": "rect", "color": "#cbb3e2"},
 "encoding": {
  "x": {"datum": -28.8, "type": "quantitative", "scale": {"domain": [-28.8, 446.1], "nice": false, "zero": false}, "axis": {"orient": "bottom", "values": [0, 72, 120, 192, 240, 288, 336, 384, 432], "labelExpr": "datum.value == 0 ? '10' : datum.value == 72 ? '15' : datum.value == 120 ? '17' : datum.value == 192 ? '22' : datum.value == 240 ? '24' : datum.value == 288 ? '26' : datum.value == 336 ? 'Mar' : datum.value == 384 ? '3' : '7'", "ticks": false, "domain": true, "domainColor": "#555555", "labelFontSize": 9, "labelPadding": 3, "labelFlush": false, "labelFontWeight": {"condition": {"test": "datum.value == 336", "value": "bold"}, "value": "normal"}}},
  "x2": {"datum": 446.1},
  "y": {"datum": 80, "type": "quantitative", "scale": {"domain": [-7.4, 106.4], "nice": false, "zero": false}, "axis": {"orient": "right", "values": [0, 25, 50, 75, 100], "format": ".4f"}},
  "y2": {"datum": 20}}},
{"mark": {"type": "rule", "color": "#555555", "strokeWidth": 1},
 "encoding": {"x": {"datum": 446.1, "type": "quantitative", "axis": null}, "x2": {"datum": 472}, "y": {"datum": -7.4, "type": "quantitative", "axis": null}}},
{"mark": {"type": "rule", "color": "#555555", "strokeWidth": 1, "strokeDash": [2, 2]}, "encoding": {"y": {"datum": 80, "type": "quantitative", "axis": null}}},
{"mark": {"type": "rule", "color": "#555555", "strokeWidth": 1, "strokeDash": [2, 2]}, "encoding": {"y": {"datum": 20, "type": "quantitative", "axis": null}}},
{"data": {"name": "stoch"}, "mark": {"type": "line", "color": "#f4622a", "strokeWidth": 1.5, "clip": true},
 "encoding": {"x": {"field": "h", "type": "quantitative", "axis": null}, "y": {"field": "d", "type": "quantitative", "axis": null}}},
{"data": {"name": "stoch"}, "mark": {"type": "line", "color": "#2a84e8", "strokeWidth": 1.5, "clip": true},
 "encoding": {"x": {"field": "h", "type": "quantitative", "axis": null}, "y": {"field": "k", "type": "quantitative", "axis": null}}},
{"mark": {"type": "text", "align": "left", "baseline": "middle", "fontSize": 9, "color": "#555555"},
 "encoding": {"x": {"datum": -28.8, "type": "quantitative", "axis": null}, "y": {"datum": 93.6, "type": "quantitative", "axis": null}, "text": {"value": "Stoch RSI (3, 3, 21, 21, close)"}}},
{"mark": {"type": "text", "align": "left", "baseline": "middle", "fontSize": 9, "color": "#2196f3"},
 "encoding": {"x": {"datum": 89.4, "type": "quantitative", "axis": null}, "y": {"datum": 93.6, "type": "quantitative", "axis": null}, "text": {"value": "39.1928"}}},
{"mark": {"type": "text", "align": "left", "baseline": "middle", "fontSize": 9, "color": "#f57c00"},
 "encoding": {"x": {"datum": 114.5, "type": "quantitative", "axis": null}, "y": {"datum": 93.6, "type": "quantitative", "axis": null}, "text": {"value": "45.2981"}}},
{"mark": {"type": "square", "size": 64, "filled": true, "color": "#c9d3c6", "opacity": 0.9}, "encoding": {"x": {"datum": 63.9, "type": "quantitative", "axis": null}, "y": {"datum": 93.6, "type": "quantitative", "axis": null}}},
{"mark": {"type": "square", "size": 64, "filled": true, "color": "#c9d3c6", "opacity": 0.9}, "encoding": {"x": {"datum": 72.5, "type": "quantitative", "axis": null}, "y": {"datum": 93.6, "type": "quantitative", "axis": null}}},
{"mark": {"type": "square", "size": 64, "filled": true, "color": "#c9d3c6", "opacity": 0.9}, "encoding": {"x": {"datum": 81.1, "type": "quantitative", "axis": null}, "y": {"datum": 93.6, "type": "quantitative", "axis": null}}},
{"mark": {"type": "square", "size": 64, "filled": true, "color": "#c9d3c6", "opacity": 0.9}, "encoding": {"x": {"datum": 431.1, "type": "quantitative", "axis": null}, "y": {"datum": 93.6, "type": "quantitative", "axis": null}}},
{"mark": {"type": "square", "size": 64, "filled": true, "color": "#c9d3c6", "opacity": 0.9}, "encoding": {"x": {"datum": 439.7, "type": "quantitative", "axis": null}, "y": {"datum": 93.6, "type": "quantitative", "axis": null}}},
{"mark": {"type": "circle", "size": 330, "color": "#eeeeee", "opacity": 0.45, "stroke": "#c8c8c8", "strokeWidth": 1}, "encoding": {"x": {"datum": 187.6, "type": "quantitative", "axis": null}, "y": {"datum": 13.8, "type": "quantitative", "axis": null}}},
{"mark": {"type": "circle", "size": 330, "color": "#eeeeee", "opacity": 0.45, "stroke": "#c8c8c8", "strokeWidth": 1}, "encoding": {"x": {"datum": 204.8, "type": "quantitative", "axis": null}, "y": {"datum": 13.8, "type": "quantitative", "axis": null}}},
{"mark": {"type": "circle", "size": 330, "color": "#eeeeee", "opacity": 0.45, "stroke": "#c8c8c8", "strokeWidth": 1}, "encoding": {"x": {"datum": 222.0, "type": "quantitative", "axis": null}, "y": {"datum": 13.8, "type": "quantitative", "axis": null}}},
{"mark": {"type": "circle", "size": 330, "color": "#eeeeee", "opacity": 0.45, "stroke": "#c8c8c8", "strokeWidth": 1}, "encoding": {"x": {"datum": 239.1, "type": "quantitative", "axis": null}, "y": {"datum": 13.8, "type": "quantitative", "axis": null}}},
{"mark": {"type": "circle", "size": 330, "color": "#eeeeee", "opacity": 0.45, "stroke": "#c8c8c8", "strokeWidth": 1}, "encoding": {"x": {"datum": 256.3, "type": "quantitative", "axis": null}, "y": {"datum": 13.8, "type": "quantitative", "axis": null}}},
{"mark": {"type": "text", "align": "center", "baseline": "middle", "fontSize": 11, "color": "#b0b0b0"}, "encoding": {"x": {"datum": 187.6, "type": "quantitative", "axis": null}, "y": {"datum": 13.8, "type": "quantitative", "axis": null}, "text": {"value": "<"}}},
{"mark": {"type": "text", "align": "center", "baseline": "middle", "fontSize": 11, "color": "#b0b0b0"}, "encoding": {"x": {"datum": 204.8, "type": "quantitative", "axis": null}, "y": {"datum": 13.8, "type": "quantitative", "axis": null}, "text": {"value": "−"}}},
{"mark": {"type": "text", "align": "center", "baseline": "middle", "fontSize": 11, "color": "#b0b0b0"}, "encoding": {"x": {"datum": 239.1, "type": "quantitative", "axis": null}, "y": {"datum": 13.8, "type": "quantitative", "axis": null}, "text": {"value": "+"}}},
{"mark": {"type": "text", "align": "center", "baseline": "middle", "fontSize": 11, "color": "#b0b0b0"}, "encoding": {"x": {"datum": 256.3, "type": "quantitative", "axis": null}, "y": {"datum": 13.8, "type": "quantitative", "axis": null}, "text": {"value": ">"}}}
]
}
]
}
